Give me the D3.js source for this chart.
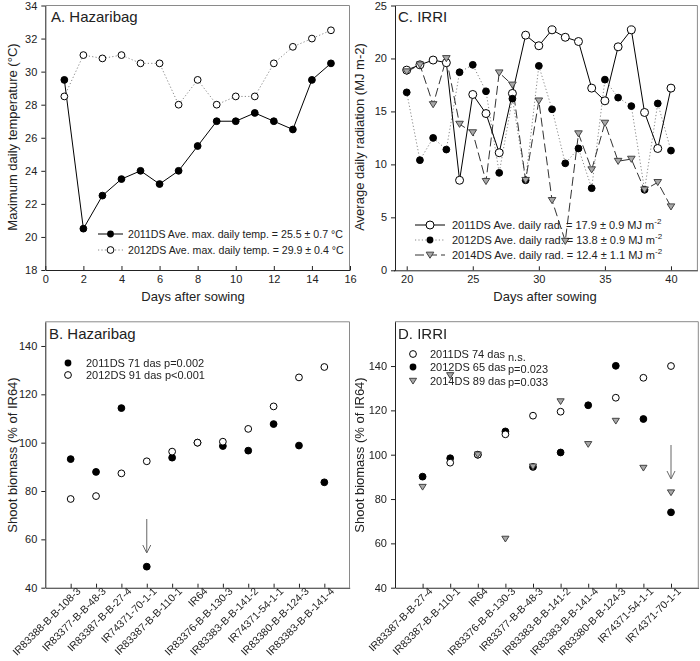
<!DOCTYPE html>
<html><head><meta charset="utf-8">
<script src="https://cdn.jsdelivr.net/npm/d3@7"></script>
<style>body{margin:0;background:#fff}svg{font-family:"Liberation Sans",Arial,sans-serif}</style>
</head><body><svg id="c" width="700" height="661"></svg>
<script>
// ---- Panel A data ----
const daysA = [1,2,3,4,5,6,7,8,9,10,11,12,13,14,15];
const tempA2011 = [29.5,20.5,22.5,23.5,24.0,23.2,24.0,25.5,27.0,27.0,27.5,27.0,26.5,29.5,30.5];
const tempA2012 = [28.5,31.0,30.8,31.0,30.5,30.5,28.0,29.5,28.0,28.5,28.5,30.5,31.5,32.0,32.5];
const legendA = ["2011DS Ave. max. daily temp. = 25.5 \u00b1 0.7 \u00b0C","2012DS Ave. max. daily temp. = 29.9 \u00b1 0.4 \u00b0C"];
const ticksAx = [0,2,4,6,8,10,12,14,16];
const ticksAy = [18,20,22,24,26,28,30,32,34];
// ---- Panel C data ----
const daysC = [20,21,22,23,24,25,26,27,28,29,30,31,32,33,34,35,36,37,38,39,40];
const radC2011 = [18.9,19.4,19.85,19.6,8.5,16.6,14.8,11.1,16.7,22.2,21.2,22.7,22.0,21.6,17.2,16.0,21.1,22.7,14.9,11.5,17.2];
const radC2012 = [16.8,10.4,12.5,11.4,18.7,19.4,16.9,9.2,16.2,8.5,19.3,15.2,10.1,11.5,7.75,18.0,16.3,15.5,7.6,15.75,11.3];
const radC2014 = [18.75,19.4,15.65,20.0,13.8,13.0,8.4,18.65,17.5,8.5,16.0,6.6,2.75,12.9,9.5,13.9,10.3,10.5,7.6,8.3,6.0];
const legendC = ["2011DS Ave. daily rad. = 17.9 \u00b1 0.9 MJ m","2012DS Ave. daily rad. = 13.8 \u00b1 0.9 MJ m","2014DS Ave. daily rad. = 12.4 \u00b1 1.1 MJ m"];
const ticksCx = [20,25,30,35,40];
const ticksCy = [0,5,10,15,20,25];
// ---- Panel B data ----
const genoB = ["IR83388-B-B-108-3","IR83377-B-B-48-3","IR83387-B-B-27-4","IR74371-70-1-1","IR83387-B-B-110-1","IR64","IR83376-B-B-130-3","IR83383-B-B-141-2","IR74371-54-1-1","IR83380-B-B-124-3","IR83383-B-B-141-4"];
const bioB2011 = [93.2,87.9,114.3,48.7,93.8,100,98.6,96.7,107.7,98.8,83.6];
const bioB2012 = [76.7,77.9,87.3,92.3,96.3,100,100.4,105.7,115.0,127.0,131.3];
const legendB = ["2011DS 71 das p=0.002","2012DS 91 das p<0.001"];
const ticksBy = [40,60,80,100,120,140];
// ---- Panel D data ----
const genoD = ["IR83387-B-B-27-4","IR83387-B-B-110-1","IR64","IR83376-B-B-130-3","IR83377-B-B-48-3","IR83383-B-B-141-2","IR83383-B-B-141-4","IR83380-B-B-124-3","IR74371-54-1-1","IR74371-70-1-1"];
const bioD2011 = [null,96.4,100,109.2,117.6,119.4,null,125.7,134.7,140.0];
const bioD2012 = [90.1,98.4,100,110.5,94.5,101.0,122.3,140.1,116.1,74.0];
const bioD2014 = [85.4,135.8,100,62.0,94.6,124.0,104.7,115.2,94.0,82.9];
const legendD = ["2011DS 74 das","2012DS 65 das","2014DS 89 das"];
const pD = ["n.s.","p=0.023","p=0.033"];
const ticksDy = [40,60,80,100,120,140];

const svg = d3.select("#c");
const AX = "#222", FR = "#8a8a8a", TXT = "#222";
const TOP = 5.5;
const triPath = s => `M${-s},${-s*0.75}L${s},${-s*0.75}L0,${s*0.85}Z`;

function frame(g, x0, x1, y0, y1){
  g.append("line").attr("x1",x0).attr("x2",x1).attr("y1",y0).attr("y2",y0).attr("stroke",FR);
  g.append("line").attr("x1",x1).attr("x2",x1).attr("y1",y0).attr("y2",y1).attr("stroke",FR);
}
function yAxis(g, y, x0, ticks){
  const a = g.append("g").attr("transform",`translate(${x0},0)`)
    .call(d3.axisLeft(y).tickValues(ticks).tickSize(4).tickPadding(4).tickSizeOuter(0));
  a.select(".domain").attr("stroke",AX);
  a.selectAll("line").attr("stroke",AX);
  a.selectAll("text").attr("font-size",11).attr("fill",TXT).attr("font-family","Liberation Sans, Arial");
}
function xAxis(g, x, y0, ticks, fmt){
  const a = g.append("g").attr("transform",`translate(0,${y0})`)
    .call(d3.axisBottom(x).tickValues(ticks).tickSize(-4).tickPadding(5).tickSizeOuter(0).tickFormat(fmt||null));
  a.select(".domain").attr("stroke",AX);
  a.selectAll("line").attr("stroke",AX);
  a.selectAll("text").attr("font-size",11).attr("fill",TXT).attr("font-family","Liberation Sans, Arial");
  return a;
}
function ylabel(g, txt, x, y){
  g.append("text").attr("transform",`translate(${x},${y}) rotate(-90)`).attr("text-anchor","middle")
   .attr("font-size",13).attr("fill",TXT).text(txt);
}
function title(g, txt, x, y){
  g.append("text").attr("x",x).attr("y",y).attr("font-size",15).attr("fill",TXT).text(txt);
}
function circles(g, xs, ys, x, y, filled, r){
  g.selectAll(null).data(xs.map((d,i)=>[d,ys[i]]).filter(d=>d[1]!=null)).enter().append("circle")
    .attr("cx",d=>x(d[0])).attr("cy",d=>y(d[1])).attr("r",r)
    .attr("fill",filled?"#000":"#fff").attr("stroke","#000").attr("stroke-width",1);
}
function tris(g, xs, ys, x, y, s){
  g.selectAll(null).data(xs.map((d,i)=>[d,ys[i]]).filter(d=>d[1]!=null)).enter().append("path")
    .attr("transform",d=>`translate(${x(d[0])},${y(d[1])})`).attr("d",triPath(s))
    .attr("fill","#a8a8a8").attr("stroke","#444").attr("stroke-width",1);
}
function line(g, xs, ys, x, y, stroke, dash){
  g.append("path").datum(xs.map((d,i)=>[d,ys[i]]))
   .attr("d",d3.line().x(d=>x(d[0])).y(d=>y(d[1])))
   .attr("fill","none").attr("stroke",stroke).attr("stroke-width",1).attr("stroke-dasharray",dash||null);
}
function catLabels(a){
  a.attr("opacity",0.999);
  a.selectAll("text").attr("text-anchor","end").attr("transform","translate(4,-2) rotate(-45)")
   .attr("dy","0.35em").attr("font-size",10.5).attr("fill","#222");
}

// ===== Panel A =====
{
  const g = svg.append("g");
  const x = d3.scaleLinear().domain([0,16]).range([45.3,350]);
  const y = d3.scaleLinear().domain([18,34]).range([270,TOP]);
  frame(g,45.3,349.5,TOP,270);
  line(g,daysA,tempA2012,x,y,"#888","1.2,2.2");
  line(g,daysA,tempA2011,x,y,"#000");
  circles(g,daysA,tempA2012,x,y,false,3.4);
  circles(g,daysA,tempA2011,x,y,true,3.4);
  yAxis(g,y,45.3,ticksAy);
  xAxis(g,x,270,ticksAx);
  title(g,"A. Hazaribag",51,22);
  ylabel(g,"Maximum daily temperature (\u00b0C)",17,137);
  g.append("text").attr("x",193).attr("y",301).attr("text-anchor","middle").attr("font-size",13).attr("fill",TXT).text("Days after sowing");
  const ly=[234,250];
  g.append("line").attr("x1",98).attr("x2",123).attr("y1",ly[0]).attr("y2",ly[0]).attr("stroke","#000");
  g.append("line").attr("x1",98).attr("x2",123).attr("y1",ly[1]).attr("y2",ly[1]).attr("stroke","#888").attr("stroke-dasharray","1.2,2.2");
  g.append("circle").attr("cx",110.5).attr("cy",ly[0]).attr("r",3.4).attr("fill","#000");
  g.append("circle").attr("cx",110.5).attr("cy",ly[1]).attr("r",3.4).attr("fill","#fff").attr("stroke","#000");
  legendA.forEach((t,i)=>g.append("text").attr("x",128).attr("y",ly[i]+4).attr("font-size",10.6).attr("fill",TXT).text(t));
}
// ===== Panel C =====
{
  const g = svg.append("g");
  const x = d3.scaleLinear().domain([19,42]).range([393.5,697.4]);
  const y = d3.scaleLinear().domain([0,25]).range([270.3,TOP]);
  frame(g,395,697.4,TOP,270.3);
  line(g,daysC,radC2012,x,y,"#888","1.2,2.2");
  line(g,daysC,radC2014,x,y,"#333","9,4");
  line(g,daysC,radC2011,x,y,"#000");
  circles(g,daysC,radC2011,x,y,false,4);
  circles(g,daysC,radC2012,x,y,true,3.4);
  tris(g,daysC,radC2014,x,y,3.8);
  yAxis(g,y,395,ticksCy);
  xAxis(g,x,270.3,ticksCx);
  title(g,"C. IRRI",398,22);
  ylabel(g,"Average daily radiation (MJ m-2)",364,137);
  g.append("text").attr("x",545).attr("y",301).attr("text-anchor","middle").attr("font-size",13).attr("fill",TXT).text("Days after sowing");
  const ly=[225,240,255];
  const styles=[["#000",null],["#888","1.2,2.2"],["#333","9,4"]];
  ly.forEach((yy,i)=>g.append("line").attr("x1",415).attr("x2",445).attr("y1",yy).attr("y2",yy).attr("stroke",styles[i][0]).attr("stroke-dasharray",styles[i][1]));
  g.append("circle").attr("cx",430).attr("cy",ly[0]).attr("r",4).attr("fill","#fff").attr("stroke","#000");
  g.append("circle").attr("cx",430).attr("cy",ly[1]).attr("r",3.4).attr("fill","#000");
  g.append("path").attr("transform",`translate(430,${ly[2]})`).attr("d",triPath(3.8)).attr("fill","#a8a8a8").attr("stroke","#444");
  legendC.forEach((t,i)=>{
    const tx=g.append("text").attr("x",452).attr("y",ly[i]+4).attr("font-size",11).attr("fill",TXT).text(t);
    tx.append("tspan").attr("font-size",8).attr("dy",-5).text("-2");
  });
}
// ===== Panel B =====
{
  const g = svg.append("g");
  const pos = genoB.map((d,i)=>i+1);
  const x = d3.scaleLinear().domain([0,12]).range([45.3,349.7]);
  const y = d3.scaleLinear().domain([40,150]).range([587.7,321.8]);
  frame(g,45.3,349.5,321.8,587.7);
  circles(g,pos,bioB2011,x,y,true,3.4);
  circles(g,pos,bioB2012,x,y,false,3.4);
  yAxis(g,y,45.3,ticksBy);
  catLabels(xAxis(g,x,587.7,pos,(d)=>genoB[d-1]));
  title(g,"B. Hazaribag",49,339);
  ylabel(g,"Shoot biomass (% of IR64)",17,455);
  g.append("line").attr("x1",x(4)).attr("x2",x(4)).attr("y1",519).attr("y2",552).attr("stroke","#666");
  g.append("path").attr("d",`M${x(4)-4},${545}L${x(4)},${553}L${x(4)+4},${545}`).attr("fill","none").attr("stroke","#666");
  const ly=[363,375];
  g.append("circle").attr("cx",68).attr("cy",ly[0]).attr("r",3.4).attr("fill","#000");
  g.append("circle").attr("cx",68).attr("cy",ly[1]).attr("r",3.4).attr("fill","#fff").attr("stroke","#000");
  legendB.forEach((t,i)=>g.append("text").attr("x",86).attr("y",ly[i]+4).attr("font-size",11).attr("fill",TXT).text(t));
}
// ===== Panel D =====
{
  const g = svg.append("g");
  const pos = genoD.map((d,i)=>i+1);
  const x = d3.scaleLinear().domain([0,11]).range([395,698.6]);
  const y = d3.scaleLinear().domain([40,160]).range([587.7,321.7]);
  frame(g,395,698.3,321.7,587.7);
  circles(g,pos,bioD2012,x,y,true,3.4);
  circles(g,pos,bioD2011,x,y,false,3.4);
  tris(g,pos,bioD2014,x,y,3.6);
  yAxis(g,y,395,ticksDy);
  catLabels(xAxis(g,x,587.7,pos,(d)=>genoD[d-1]));
  title(g,"D. IRRI",398,339);
  ylabel(g,"Shoot biomass (% of IR64)",364,455);
  g.append("line").attr("x1",x(10)).attr("x2",x(10)).attr("y1",445).attr("y2",478).attr("stroke","#666");
  g.append("path").attr("d",`M${x(10)-4},${471}L${x(10)},${479}L${x(10)+4},${471}`).attr("fill","none").attr("stroke","#666");
  const ly=[354,367,381];
  const lp=[357,369,382];
  g.append("circle").attr("cx",413).attr("cy",ly[0]).attr("r",3.4).attr("fill","#fff").attr("stroke","#000");
  g.append("circle").attr("cx",413).attr("cy",ly[1]).attr("r",3.4).attr("fill","#000");
  g.append("path").attr("transform",`translate(413,${ly[2]})`).attr("d",triPath(3.6)).attr("fill","#a8a8a8").attr("stroke","#444");
  legendD.forEach((t,i)=>g.append("text").attr("x",430).attr("y",ly[i]+4).attr("font-size",11).attr("fill",TXT).text(t));
  pD.forEach((t,i)=>g.append("text").attr("x",508).attr("y",lp[i]+4).attr("font-size",11).attr("fill",TXT).text(t));
}
</script></body></html>
